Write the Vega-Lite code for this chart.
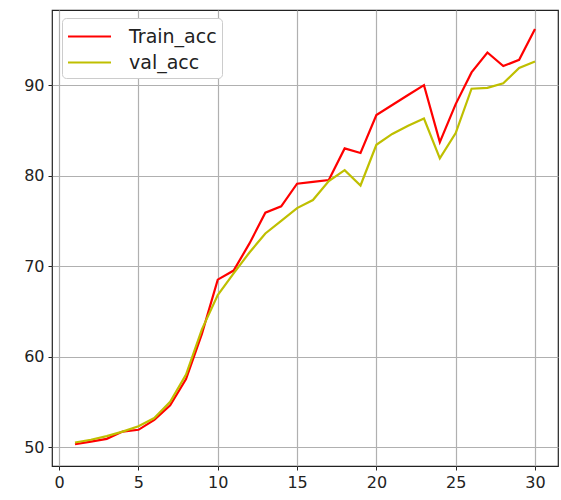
{
  "$schema": "https://vega.github.io/schema/vega-lite/v6.json",
  "width": 506,
  "height": 456,
  "autosize": "none",
  "padding": {"left": 52, "top": 10, "right": 3, "bottom": 34},
  "background": "white",
  "config": {
    "view": {"stroke": "#222222", "strokeWidth": 1.2},
    "axis": {
      "domain": false,
      "grid": true,
      "gridColor": "#b0b0b0",
      "gridWidth": 1.2,
      "ticks": true,
      "tickColor": "#222222",
      "tickSize": 4,
      "tickWidth": 1,
      "labelFont": "DejaVu Sans",
      "labelFontSize": 16,
      "labelColor": "#222222",
      "labelPadding": 4,
      "title": null
    }
  },
  "data": {
    "values": [
      {"epoch": 1, "series": "Train_acc", "acc": 50.3},
      {"epoch": 2, "series": "Train_acc", "acc": 50.6},
      {"epoch": 3, "series": "Train_acc", "acc": 50.9},
      {"epoch": 4, "series": "Train_acc", "acc": 51.7},
      {"epoch": 5, "series": "Train_acc", "acc": 51.9},
      {"epoch": 6, "series": "Train_acc", "acc": 53.0},
      {"epoch": 7, "series": "Train_acc", "acc": 54.6},
      {"epoch": 8, "series": "Train_acc", "acc": 57.5},
      {"epoch": 9, "series": "Train_acc", "acc": 62.5},
      {"epoch": 10, "series": "Train_acc", "acc": 68.5},
      {"epoch": 11, "series": "Train_acc", "acc": 69.5},
      {"epoch": 12, "series": "Train_acc", "acc": 72.5},
      {"epoch": 13, "series": "Train_acc", "acc": 75.9},
      {"epoch": 14, "series": "Train_acc", "acc": 76.6},
      {"epoch": 15, "series": "Train_acc", "acc": 79.1},
      {"epoch": 16, "series": "Train_acc", "acc": 79.3},
      {"epoch": 17, "series": "Train_acc", "acc": 79.5},
      {"epoch": 18, "series": "Train_acc", "acc": 83.0},
      {"epoch": 19, "series": "Train_acc", "acc": 82.5},
      {"epoch": 20, "series": "Train_acc", "acc": 86.7},
      {"epoch": 21, "series": "Train_acc", "acc": 87.8},
      {"epoch": 22, "series": "Train_acc", "acc": 88.9},
      {"epoch": 23, "series": "Train_acc", "acc": 90.0},
      {"epoch": 24, "series": "Train_acc", "acc": 83.7},
      {"epoch": 25, "series": "Train_acc", "acc": 87.9},
      {"epoch": 26, "series": "Train_acc", "acc": 91.4},
      {"epoch": 27, "series": "Train_acc", "acc": 93.6},
      {"epoch": 28, "series": "Train_acc", "acc": 92.1},
      {"epoch": 29, "series": "Train_acc", "acc": 92.8},
      {"epoch": 30, "series": "Train_acc", "acc": 96.2},
      {"epoch": 1, "series": "val_acc", "acc": 50.5},
      {"epoch": 2, "series": "val_acc", "acc": 50.8},
      {"epoch": 3, "series": "val_acc", "acc": 51.2},
      {"epoch": 4, "series": "val_acc", "acc": 51.7},
      {"epoch": 5, "series": "val_acc", "acc": 52.3},
      {"epoch": 6, "series": "val_acc", "acc": 53.2},
      {"epoch": 7, "series": "val_acc", "acc": 55.0},
      {"epoch": 8, "series": "val_acc", "acc": 58.0},
      {"epoch": 9, "series": "val_acc", "acc": 63.0},
      {"epoch": 10, "series": "val_acc", "acc": 66.8},
      {"epoch": 11, "series": "val_acc", "acc": 69.2},
      {"epoch": 12, "series": "val_acc", "acc": 71.5},
      {"epoch": 13, "series": "val_acc", "acc": 73.6},
      {"epoch": 14, "series": "val_acc", "acc": 75.0},
      {"epoch": 15, "series": "val_acc", "acc": 76.4},
      {"epoch": 16, "series": "val_acc", "acc": 77.3},
      {"epoch": 17, "series": "val_acc", "acc": 79.4},
      {"epoch": 18, "series": "val_acc", "acc": 80.6},
      {"epoch": 19, "series": "val_acc", "acc": 78.9},
      {"epoch": 20, "series": "val_acc", "acc": 83.4},
      {"epoch": 21, "series": "val_acc", "acc": 84.6},
      {"epoch": 22, "series": "val_acc", "acc": 85.5},
      {"epoch": 23, "series": "val_acc", "acc": 86.3},
      {"epoch": 24, "series": "val_acc", "acc": 81.9},
      {"epoch": 25, "series": "val_acc", "acc": 84.7},
      {"epoch": 26, "series": "val_acc", "acc": 89.6},
      {"epoch": 27, "series": "val_acc", "acc": 89.7},
      {"epoch": 28, "series": "val_acc", "acc": 90.2},
      {"epoch": 29, "series": "val_acc", "acc": 91.9},
      {"epoch": 30, "series": "val_acc", "acc": 92.6}
    ]
  },
  "mark": {"type": "line", "strokeWidth": 2.2},
  "encoding": {
    "x": {
      "field": "epoch",
      "type": "quantitative",
      "scale": {"domain": [-0.45, 31.45], "nice": false, "zero": false},
      "axis": {"values": [0, 5, 10, 15, 20, 25, 30], "format": "d"}
    },
    "y": {
      "field": "acc",
      "type": "quantitative",
      "scale": {"domain": [47.9, 98.3], "nice": false, "zero": false},
      "axis": {"values": [50, 60, 70, 80, 90], "format": "d"}
    },
    "color": {
      "field": "series",
      "type": "nominal",
      "scale": {"domain": ["Train_acc", "val_acc"], "range": ["#ff0000", "#bfbf00"]},
      "legend": {
        "title": null,
        "orient": "none",
        "legendX": 10,
        "legendY": 8,
        "symbolType": "M-1,0H2.44",
        "symbolSize": 625,
        "symbolStrokeWidth": 2,
        "symbolFillColor": "transparent",
        "labelFont": "DejaVu Sans",
        "labelFontSize": 19,
        "labelColor": "#222222",
        "labelOffset": 35,
        "rowPadding": 2,
        "padding": 5,
        "fillColor": "white",
        "strokeColor": "#cccccc",
        "cornerRadius": 4
      }
    }
  }
}
